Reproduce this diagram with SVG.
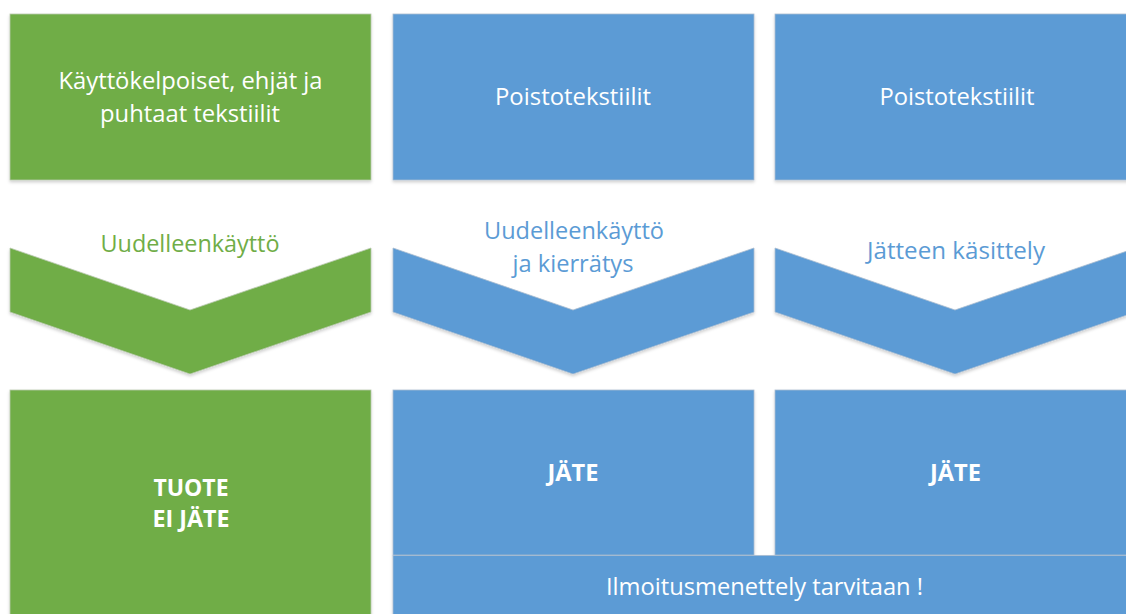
<svg xmlns="http://www.w3.org/2000/svg" width="1126" height="614" viewBox="0 0 1126 614">
  <defs>
    <filter id="soft" x="-5%" y="-5%" width="110%" height="115%">
      <feDropShadow dx="0" dy="2" stdDeviation="1.5" flood-color="#000" flood-opacity="0.18"/>
    </filter>
    <style>
      .green { fill: #70AD47; stroke: #b9c9ae; stroke-width: 0.8; filter: url(#soft); }
      .blue { fill: #5B9BD5; stroke: #aabcd0; stroke-width: 0.8; filter: url(#soft); }
      text { font-family: "Open Sans", "Noto Sans", "Liberation Sans", sans-serif; font-size: 24px; text-anchor: middle; }
      .light { fill: #ffffff; }
      .bold { fill: #ffffff; font-weight: bold; }
      .lbl-green { fill: #70AD47; }
      .lbl-blue { fill: #5B9BD5; }
    </style>
  </defs>
  <rect width="1126" height="614" fill="#ffffff"/>

  <!-- top row: sources -->
  <g id="src-usable">
    <rect class="green" x="10" y="14" width="361" height="166"/>
    <text class="light" x="190.5" y="89" textLength="264" lengthAdjust="spacingAndGlyphs">Käyttökelpoiset, ehjät ja</text>
    <text class="light" x="190" y="122" textLength="180" lengthAdjust="spacingAndGlyphs">puhtaat tekstiilit</text>
  </g>
  <g id="src-discard-1">
    <rect class="blue" x="393" y="14" width="361" height="166"/>
    <text class="light" x="573" y="105" textLength="156" lengthAdjust="spacingAndGlyphs">Poistotekstiilit</text>
  </g>
  <g id="src-discard-2">
    <rect class="blue" x="775" y="14" width="361" height="166"/>
    <text class="light" x="957" y="105" textLength="155" lengthAdjust="spacingAndGlyphs">Poistotekstiilit</text>
  </g>

  <!-- middle row: process chevrons -->
  <g id="step-reuse">
    <polygon class="green" points="10,248 190,310 371,248 371,312 190,374 10,312"/>
    <text class="lbl-green" x="190" y="252" textLength="179" lengthAdjust="spacingAndGlyphs">Uudelleenkäyttö</text>
  </g>
  <g id="step-reuse-recycle">
    <polygon class="blue" points="393,248 573,310 754,248 754,312 573,374 393,312"/>
    <text class="lbl-blue" x="574" y="239" textLength="180" lengthAdjust="spacingAndGlyphs">Uudelleenkäyttö</text>
    <text class="lbl-blue" x="573" y="271.5" textLength="121" lengthAdjust="spacingAndGlyphs">ja kierrätys</text>
  </g>
  <g id="step-treatment">
    <polygon class="blue" points="775,248 955,310 1136,248 1136,312 955,374 775,312"/>
    <text class="lbl-blue" x="956" y="259" textLength="178" lengthAdjust="spacingAndGlyphs">Jätteen käsittely</text>
  </g>

  <!-- bottom row: outcomes -->
  <g id="out-product">
    <rect class="green" x="10" y="390" width="361" height="230"/>
    <text class="bold" x="191" y="496" textLength="75" lengthAdjust="spacingAndGlyphs">TUOTE</text>
    <text class="bold" x="191" y="527" textLength="77" lengthAdjust="spacingAndGlyphs">EI JÄTE</text>
  </g>
  <g id="out-waste-1">
    <rect class="blue" x="393" y="390" width="361" height="165"/>
    <text class="bold" x="573" y="481" textLength="51" lengthAdjust="spacingAndGlyphs">JÄTE</text>
  </g>
  <g id="out-waste-2">
    <rect class="blue" x="775" y="390" width="361" height="165"/>
    <text class="bold" x="955.5" y="481" textLength="51" lengthAdjust="spacingAndGlyphs">JÄTE</text>
  </g>
  <g id="notice">
    <rect class="blue" x="393" y="555.5" width="743" height="70"/>
    <text class="light" x="764.5" y="595" textLength="317" lengthAdjust="spacingAndGlyphs">Ilmoitusmenettely tarvitaan !</text>
  </g>
</svg>
